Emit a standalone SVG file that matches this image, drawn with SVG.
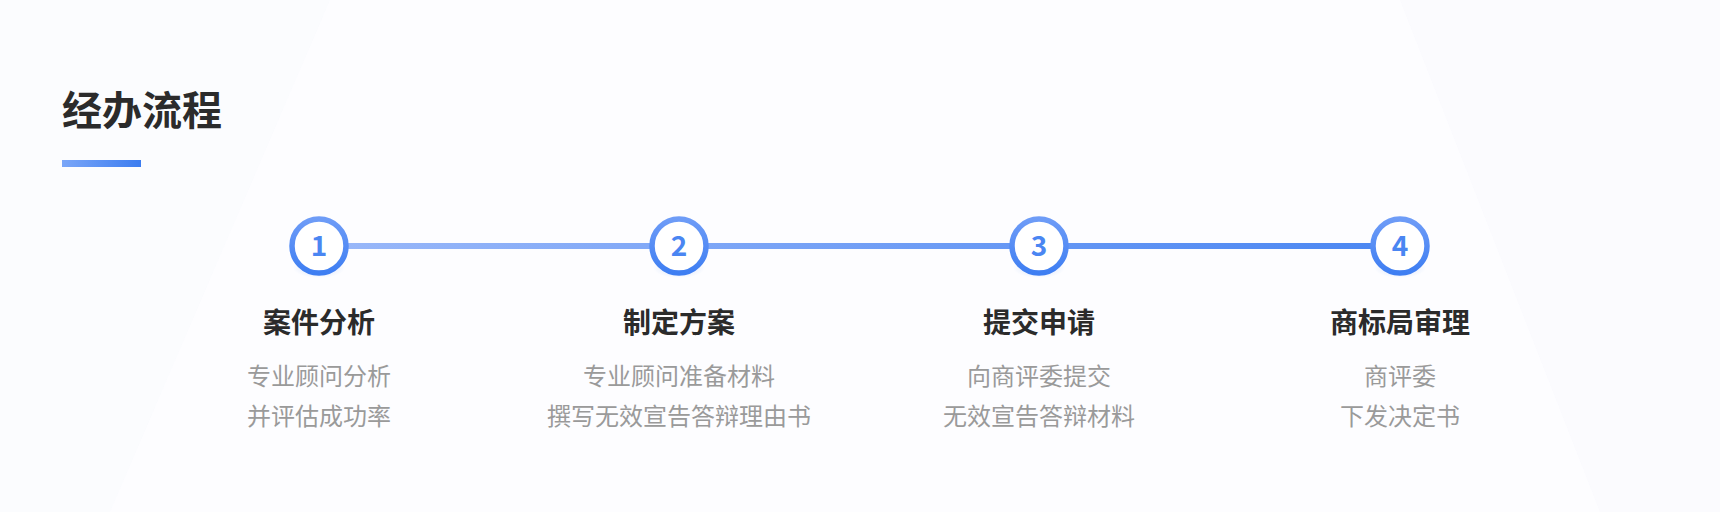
<svg xmlns="http://www.w3.org/2000/svg" width="1720" height="512" viewBox="0 0 1720 512">
<defs>
<linearGradient id="bar" x1="0" x2="1"><stop offset="0" stop-color="#7aa6f8"/><stop offset="1" stop-color="#3b7cf0"/></linearGradient>
<linearGradient id="line" x1="0" x2="1"><stop offset="0" stop-color="#9ab8f9"/><stop offset="1" stop-color="#4a86f2"/></linearGradient>
<linearGradient id="ring" x1="0" y1="0" x2="0" y2="1"><stop offset="0" stop-color="#6e9cf7"/><stop offset="1" stop-color="#3e7ef2"/></linearGradient>
<radialGradient id="glow"><stop offset="0" stop-color="#4a86f2" stop-opacity="0.25"/><stop offset="1" stop-color="#4a86f2" stop-opacity="0"/></radialGradient>
<style>
.t{font-family:"Noto Sans CJK SC",sans-serif;font-weight:700;fill:#2b2b2b;text-anchor:middle;font-size:28px}
.s{font-family:"Noto Sans CJK SC",sans-serif;fill:#9a9a9a;text-anchor:middle;font-size:24px}
.n{font-family:"Noto Sans CJK SC",sans-serif;font-weight:700;fill:#4a86f2;text-anchor:middle;font-size:28px}
.c{fill:#fff;stroke:url(#ring);stroke-width:5.5}
</style>
</defs>
<rect width="1720" height="512" fill="#fdfdff"/>
<polygon points="0,0 330,0 110,512 0,512" fill="#f7f8fc" opacity="0.35"/>
<polygon points="1400,0 1720,0 1720,512 1600,512" fill="#f6f7fc" opacity="0.35"/>
<text x="62" y="125" font-family="Noto Sans CJK SC,sans-serif" font-weight="700" font-size="40" fill="#2b2b2b">经办流程</text>
<rect x="62" y="160" width="79" height="7" fill="url(#bar)"/>
<g id="connectors">
<rect x="319" y="243" width="1081" height="6" fill="url(#line)"/>
</g>
<g id="n1"><ellipse cx="319" cy="268" rx="26" ry="10" fill="url(#glow)"/><circle class="c" cx="319" cy="246" r="27"/><text class="n" x="319" y="256">1</text><text class="t" x="319" y="333">案件分析</text><text class="s" x="319" y="385">专业顾问分析</text><text class="s" x="319" y="425">并评估成功率</text></g>
<g id="n2"><ellipse cx="679" cy="268" rx="26" ry="10" fill="url(#glow)"/><circle class="c" cx="679" cy="246" r="27"/><text class="n" x="679" y="256">2</text><text class="t" x="679" y="333">制定方案</text><text class="s" x="679" y="385">专业顾问准备材料</text><text class="s" x="679" y="425">撰写无效宣告答辩理由书</text></g>
<g id="n3"><ellipse cx="1039" cy="268" rx="26" ry="10" fill="url(#glow)"/><circle class="c" cx="1039" cy="246" r="27"/><text class="n" x="1039" y="256">3</text><text class="t" x="1039" y="333">提交申请</text><text class="s" x="1039" y="385">向商评委提交</text><text class="s" x="1039" y="425">无效宣告答辩材料</text></g>
<g id="n4"><ellipse cx="1400" cy="268" rx="26" ry="10" fill="url(#glow)"/><circle class="c" cx="1400" cy="246" r="27"/><text class="n" x="1400" y="256">4</text><text class="t" x="1400" y="333">商标局审理</text><text class="s" x="1400" y="385">商评委</text><text class="s" x="1400" y="425">下发决定书</text></g>
</svg>
